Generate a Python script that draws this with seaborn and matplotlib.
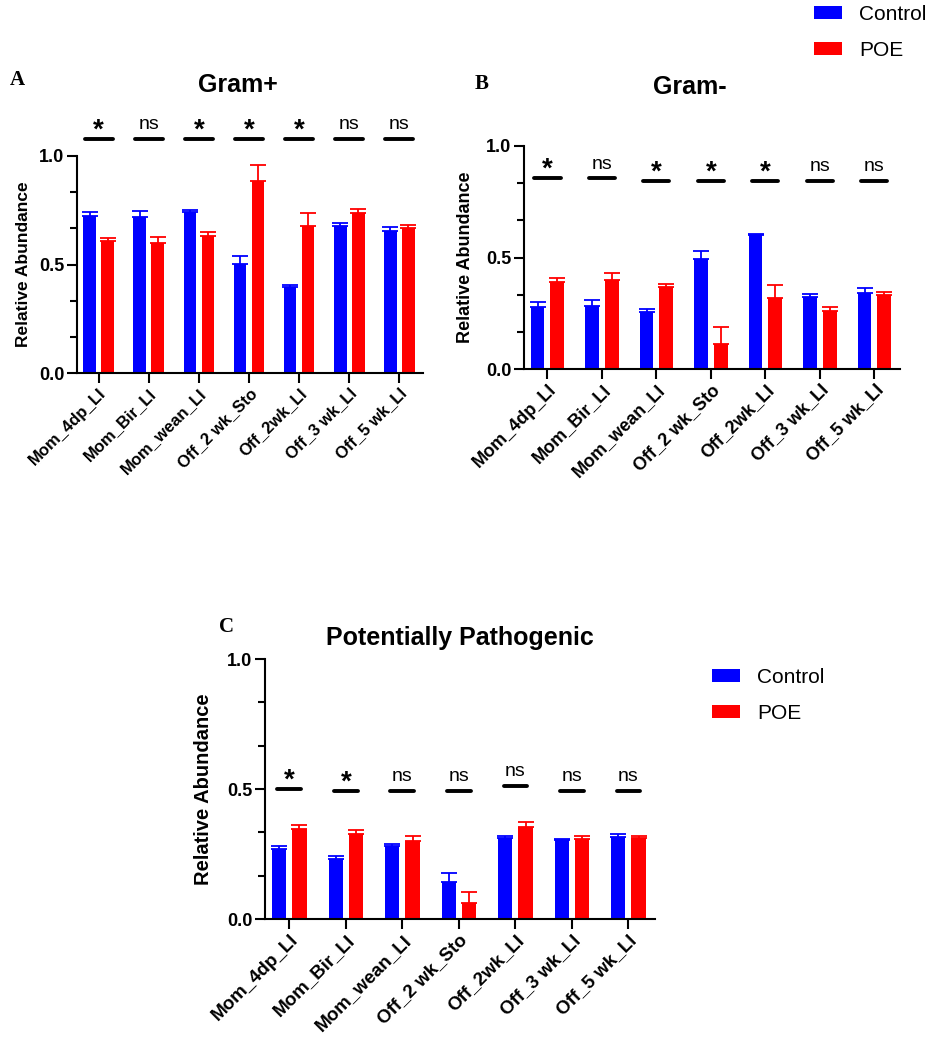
import pandas as pd
import matplotlib
matplotlib.use("Agg")
import matplotlib.pyplot as plt
import seaborn as sns
from matplotlib.patches import Patch
from matplotlib.ticker import MultipleLocator

# ---- data ----
groups = ["Control", "POE"]
samples = ["Mom_4dp_LI", "Mom_Bir_LI", "Mom_wean_LI", "Off_2 wk_Sto",
           "Off_2wk_LI", "Off_3 wk_LI", "Off_5 wk_LI"]

# A: Gram+
gpos_ctrl = [0.722, 0.717, 0.742, 0.504, 0.396, 0.677, 0.654]
gpos_ctrl_sem = [0.020, 0.030, 0.011, 0.035, 0.008, 0.016, 0.019]
gpos_poe = [0.607, 0.598, 0.633, 0.886, 0.679, 0.736, 0.668]
gpos_poe_sem = [0.015, 0.029, 0.015, 0.072, 0.060, 0.018, 0.014]
gpos_sig = ["*", "ns", "*", "*", "*", "ns", "ns"]

# B: Gram-
gneg_ctrl = [0.276, 0.281, 0.257, 0.493, 0.599, 0.321, 0.343]
gneg_ctrl_sem = [0.023, 0.029, 0.010, 0.037, 0.005, 0.016, 0.018]
gneg_poe = [0.390, 0.400, 0.366, 0.112, 0.318, 0.261, 0.330]
gneg_poe_sem = [0.016, 0.030, 0.016, 0.075, 0.060, 0.018, 0.015]
gneg_sig = ["*", "ns", "*", "*", "*", "ns", "ns"]

# C: Potentially Pathogenic
path_ctrl = [0.268, 0.231, 0.281, 0.144, 0.311, 0.302, 0.316]
path_ctrl_sem = [0.013, 0.013, 0.008, 0.032, 0.009, 0.006, 0.011]
path_poe = [0.345, 0.326, 0.300, 0.060, 0.354, 0.307, 0.311]
path_poe_sem = [0.018, 0.015, 0.020, 0.043, 0.021, 0.014, 0.010]
path_sig = ["*", "*", "ns", "ns", "ns", "ns", "ns"]

colors = {"Control": "#0000ff", "POE": "#ff0000"}

sns.set_style("ticks", rc={"axes.edgecolor": "black", "axes.labelcolor": "black",
                           "xtick.color": "black", "ytick.color": "black",
                           "text.color": "black"})
plt.rcParams['font.family'] = ['Liberation Sans', 'DejaVu Sans']

W, H = 945, 1050
fig = plt.figure(figsize=(W / 100, H / 100), dpi=100)


def px_rect(l, t, r, b):
    return [l / W, 1 - b / H, (r - l) / W, (b - t) / H]


def draw_panel(rect, ctrl, ctrl_sem, poe, poe_sem, sig, sig_y, sig_hw,
               tick_fs, ylab_fs):
    ax = fig.add_axes(px_rect(*rect))
    df = pd.DataFrame({
        "sample": samples * 2,
        "group": ["Control"] * len(samples) + ["POE"] * len(samples),
        "value": ctrl + poe,
    })
    sns.barplot(data=df, x="sample", y="value", hue="group", hue_order=groups,
                palette=colors, width=0.72, gap=0.3, saturation=1,
                errorbar=None, legend=False, linewidth=0, ax=ax)

    # one-sided SEM bars
    for cont, sem, g in zip(ax.containers, [ctrl_sem, poe_sem], groups):
        for bar, s in zip(cont, sem):
            xc = bar.get_x() + bar.get_width() / 2
            ax.errorbar(xc, bar.get_height(), yerr=[[0], [s]], fmt="none",
                        ecolor=colors[g], elinewidth=1.3, capsize=5.5,
                        capthick=1.3)

    # significance marks
    for i, lab in enumerate(sig):
        y = sig_y[i]
        ax.plot([i - sig_hw, i + sig_hw], [y, y], color="black", lw=2.8,
                solid_capstyle="round", clip_on=False)
        if lab == "*":
            ax.annotate(lab, (i, y), xytext=(0, 1), textcoords="offset points",
                        ha="center", va="baseline", fontsize=20,
                        fontweight="bold", annotation_clip=False)
        else:
            ax.annotate(lab, (i, y), xytext=(0, 7), textcoords="offset points",
                        ha="center", va="baseline", fontsize=14,
                        annotation_clip=False)

    ax.set_xlim(-0.43, 6.47)
    ax.set_ylim(0, 1.0)
    ax.set_yticks([0, 0.5, 1.0])
    ax.set_yticklabels(["0.0", "0.5", "1.0"], fontsize=13, fontweight="bold")
    ax.yaxis.set_minor_locator(MultipleLocator(1 / 6))
    ax.set_xticks(range(len(samples)))
    ax.set_xticklabels(samples, rotation=45, ha="right",
                       rotation_mode="anchor", fontsize=tick_fs,
                       fontweight="bold")
    ax.set_xlabel("")
    ax.set_ylabel("Relative Abundance", fontsize=ylab_fs, fontweight="bold")
    ax.yaxis.set_label_coords(-0.133, 0.5)
    ax.tick_params(axis="both", which="major", length=7, width=1.5, pad=2)
    ax.tick_params(axis="y", which="minor", length=5, width=1.5)
    for sp in ["left", "bottom"]:
        ax.spines[sp].set_linewidth(1.5)
    sns.despine(ax=ax)
    return ax


axA = draw_panel((77, 156, 423, 373), gpos_ctrl, gpos_ctrl_sem, gpos_poe,
                 gpos_poe_sem, gpos_sig, [1.08] * 7, 0.28, 12, 12.5)
axB = draw_panel((524, 146, 900, 369), gneg_ctrl, gneg_ctrl_sem, gneg_poe,
                 gneg_poe_sem, gneg_sig,
                 [0.855, 0.855, 0.845, 0.845, 0.845, 0.845, 0.845], 0.24,
                 13, 13)
axC = draw_panel((265, 659, 655, 919), path_ctrl, path_ctrl_sem, path_poe,
                 path_poe_sem, path_sig,
                 [0.50, 0.493, 0.493, 0.493, 0.513, 0.493, 0.493], 0.21,
                 13.5, 14.5)

# titles and panel letters
fig.text(238 / W, 1 - 85 / H, "Gram+", ha="center", va="center",
         fontsize=18, fontweight="bold")
fig.text(690 / W, 1 - 87 / H, "Gram-", ha="center", va="center",
         fontsize=18, fontweight="bold")
fig.text(460 / W, 1 - 638 / H, "Potentially Pathogenic", ha="center",
         va="center", fontsize=18, fontweight="bold")
for lx, ly, letter in [(17, 80, "A"), (482, 84, "B"), (227, 627, "C")]:
    fig.text(lx / W, 1 - ly / H, letter, ha="center", va="center",
             fontsize=15, fontweight="bold", family="Liberation Serif")

# legends
handles = [Patch(facecolor=colors[g], edgecolor="none") for g in groups]
for lx, ty in [(814, 5), (712, 668)]:
    fig.legend(handles, groups, loc="upper left",
               bbox_to_anchor=(lx / W, 1 - ty / H), frameon=False,
               fontsize=15, handlelength=1.35, handleheight=0.63,
               handletextpad=0.8, labelspacing=0.8, borderpad=0,
               borderaxespad=0)

fig.savefig("out.png", dpi=100)
